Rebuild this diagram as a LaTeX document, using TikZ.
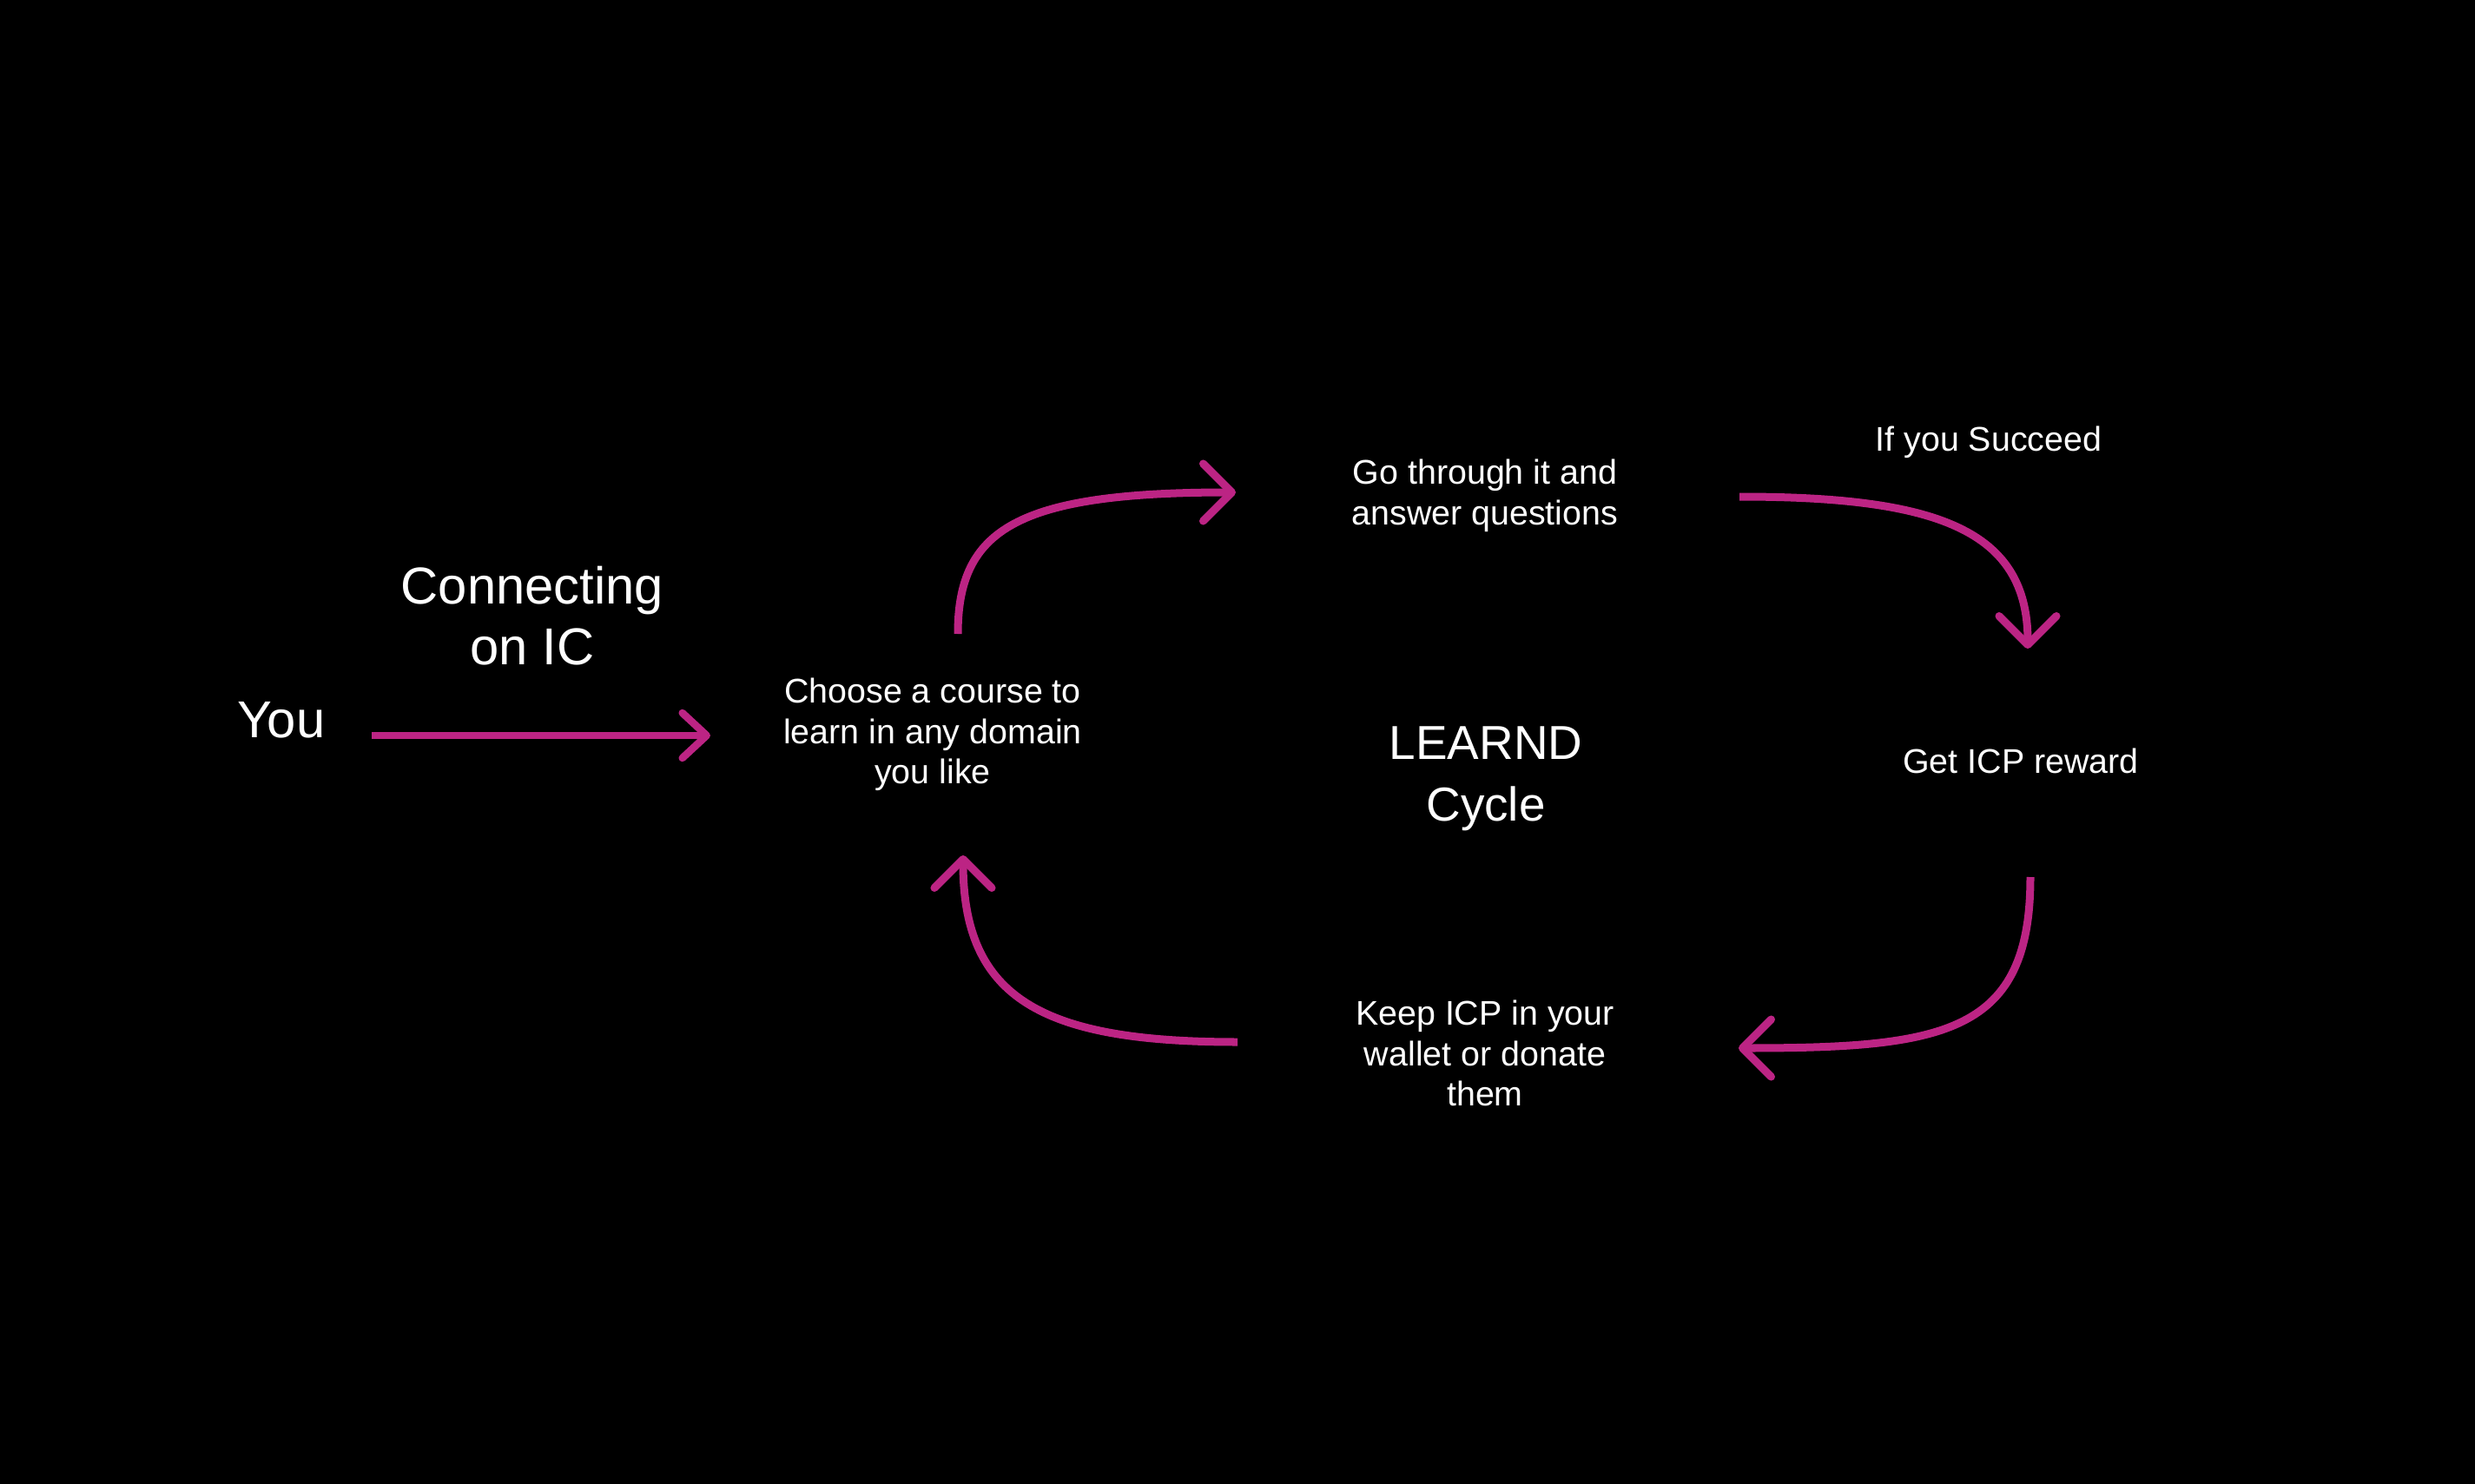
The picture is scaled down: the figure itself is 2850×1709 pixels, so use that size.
\documentclass[tikz,border=0pt]{standalone}
\usepackage{fontspec}
\setmainfont{Liberation Sans}
\usetikzlibrary{arrows.meta}
\definecolor{learnpink}{RGB}{188,36,132}

\begin{document}
\begin{tikzpicture}[x=0.01cm,y=-0.01cm]
		\tikzstyle{BigText}=[text=white,inner sep=0pt,align=center,font=\fontsize{17}{19.8}\selectfont]
		\tikzstyle{CycleText}=[text=white,inner sep=0pt,align=center,font=\fontsize{15.6}{20.2}\selectfont]
		\tikzstyle{StepText}=[text=white,inner sep=0pt,align=center,font=\fontsize{11.2}{13.2}\selectfont]
		\tikzstyle{FlowArrow}=[draw=learnpink,line width=0.9mm,-{Straight Barb[length=3.3mm,width=6.6mm,round]}]
		\tikzstyle{JoinArrow}=[draw=learnpink,line width=0.85mm,-{Straight Barb[length=2.8mm,width=5.2mm,round]}]
		\fill[black] (0,0) rectangle (2850,1709);
		% texts
		\node[BigText] (you) at (324,829) {You};
		\node[BigText] (connect) at (613,709) {Connecting\\on IC};
		\node[StepText] (choose) at (1074,846) {Choose a course to\\learn in any domain\\you like};
		\node[StepText] (go) at (1710,571) {Go through it and\\answer questions};
		\node[StepText] (succeed) at (2290,509) {If you Succeed};
		\node[StepText] (reward) at (2327,876) {Get ICP reward};
		\node[StepText] (keep) at (1710,1213) {Keep ICP in your\\wallet or donate\\them};
		\node[CycleText] (cycle) at (1711,897) {LEARND\\Cycle};
		% arrow ends
		\coordinate (youout) at (428,847);
		\coordinate (choosein) at (818,847);
		\coordinate (chooseout) at (1103,730);
		\coordinate (goin) at (1423,567);
		\coordinate (goout) at (2003,572);
		\coordinate (rewardin) at (2335,747);
		\coordinate (rewardout) at (2338,1010);
		\coordinate (keepin) at (2002,1207);
		\coordinate (keepout) at (1425,1200);
		\coordinate (chooseback) at (1109,985);
		% arrows
		\draw[JoinArrow] (youout) -- (choosein);
		\draw[FlowArrow] (chooseout) .. controls +(0,-120) and +(-253,0) .. (goin);
		\draw[FlowArrow] (goout) .. controls +(227,0) and +(0,-137) .. (rewardin);
		\draw[FlowArrow] (rewardout) .. controls +(0,180) and +(238,0) .. (keepin);
		\draw[FlowArrow] (keepout) .. controls +(-225,0) and +(0,165) .. (chooseback);
	\end{tikzpicture}
\end{document}
